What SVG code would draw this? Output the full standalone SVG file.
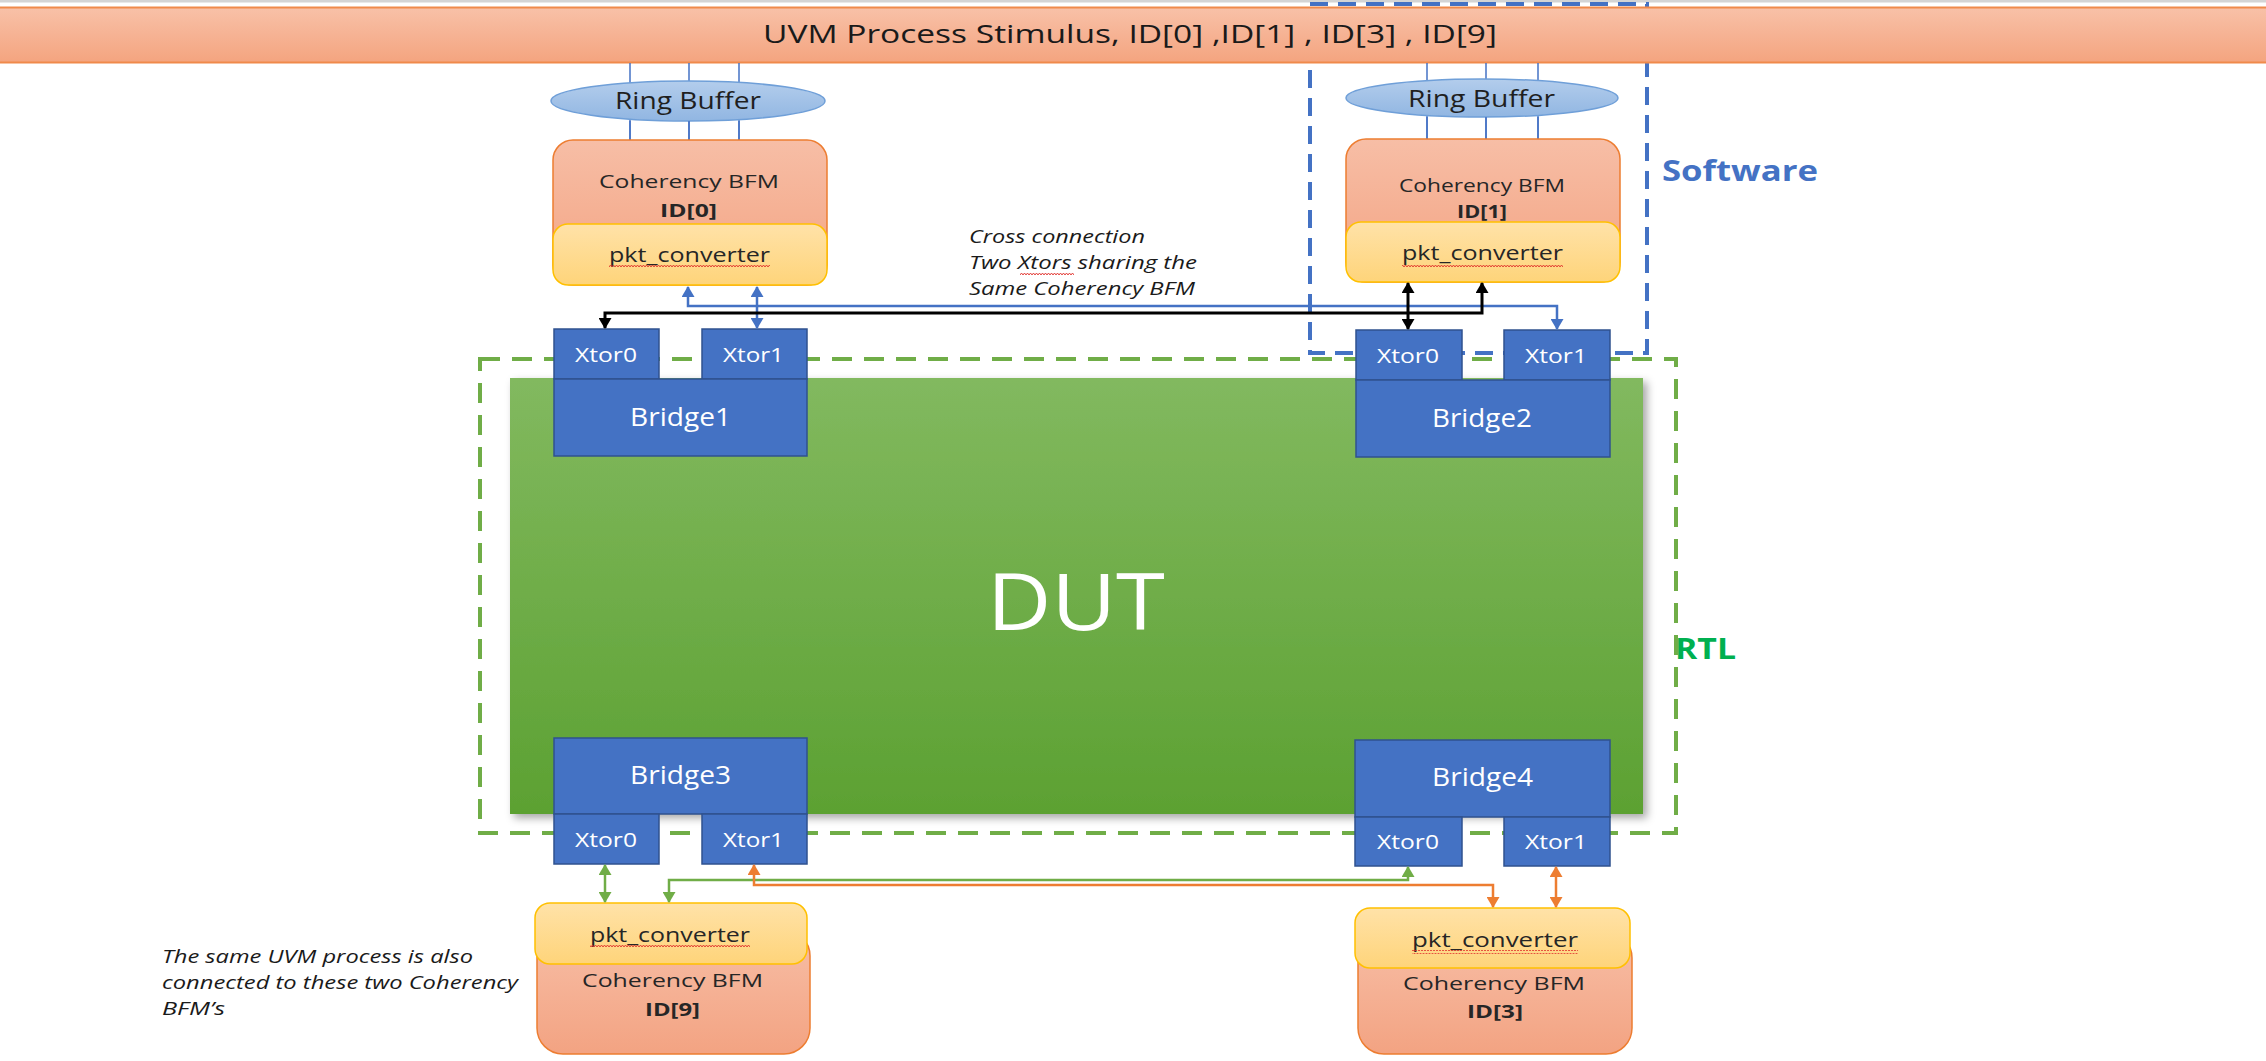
<svg xmlns="http://www.w3.org/2000/svg" width="2266" height="1061" viewBox="0 0 2266 1061">
  <defs>
    <style>
      text { font-family: "Open Sans", "Liberation Sans", sans-serif; }
      .xt { fill: #ffffff; font-size: 19.5px; }
      .br { fill: #ffffff; font-size: 26px; }
      .dk { fill: #262626; }
      .bfm { font-size: 18.5px; }
      .id { font-size: 18.5px; font-weight: bold; }
      .pkt { font-size: 19.5px; }
      .rb { font-size: 24.5px; fill: #1f1f1f; }
      .note { font-style: italic; font-size: 18px; fill: #1a1a1a; }
      .block { fill: #4472c4; stroke: #2f528f; stroke-width: 1.5; }
      .bfmbox { fill: url(#gBfm); stroke: #ed7d31; stroke-width: 1.5; }
      .pktbox { fill: url(#gPkt); stroke: #ffc000; stroke-width: 1.5; }
      .ring { fill: url(#gRing); stroke: #6f9fd8; stroke-width: 1.5; }
      .rline { stroke: #4472c4; stroke-width: 1.5; }
      .sq { fill: url(#squiggle); }
      .cb { fill: none; stroke: #4472c4; stroke-width: 2.5; marker-start: url(#aB); marker-end: url(#aB); }
      .ck { fill: none; stroke: #000000; stroke-width: 3; marker-start: url(#aK); marker-end: url(#aK); }
      .cg { fill: none; stroke: #70ad47; stroke-width: 2.5; marker-start: url(#aG); marker-end: url(#aG); }
      .co { fill: none; stroke: #ed7d31; stroke-width: 2.5; marker-start: url(#aO); marker-end: url(#aO); }
    </style>
    <linearGradient id="gBanner" x1="0" y1="0" x2="0" y2="1">
      <stop offset="0" stop-color="#f8c1a8"/>
      <stop offset="1" stop-color="#f4a47f"/>
    </linearGradient>
    <linearGradient id="gBfm" x1="0" y1="0" x2="0" y2="1">
      <stop offset="0" stop-color="#f7bea6"/>
      <stop offset="1" stop-color="#f3a382"/>
    </linearGradient>
    <linearGradient id="gPkt" x1="0" y1="0" x2="0" y2="1">
      <stop offset="0" stop-color="#ffe2a8"/>
      <stop offset="1" stop-color="#fed47a"/>
    </linearGradient>
    <linearGradient id="gRing" x1="0" y1="0" x2="0" y2="1">
      <stop offset="0" stop-color="#b3cdec"/>
      <stop offset="1" stop-color="#91b6e2"/>
    </linearGradient>
    <linearGradient id="gDut" x1="0" y1="0" x2="0" y2="1">
      <stop offset="0" stop-color="#82b95f"/>
      <stop offset="1" stop-color="#5ca132"/>
    </linearGradient>
    <filter id="shadow" x="-5%" y="-5%" width="112%" height="115%">
      <feDropShadow dx="4" dy="4" stdDeviation="4" flood-color="#000" flood-opacity="0.35"/>
    </filter>
    <pattern id="squiggle" width="6" height="4" patternUnits="userSpaceOnUse">
      <path d="M0,3 L1.5,1 L3,3 L4.5,1 L6,3" fill="none" stroke="#e0302a" stroke-width="0.9"/>
    </pattern>
    <marker id="aB" viewBox="0 0 11 13" refX="10" refY="6.5" markerWidth="11" markerHeight="13" markerUnits="userSpaceOnUse" orient="auto-start-reverse">
      <path d="M0,0 L11,6.5 L0,13 z" fill="#4472c4"/>
    </marker>
    <marker id="aK" viewBox="0 0 11 13" refX="10" refY="6.5" markerWidth="11" markerHeight="13" markerUnits="userSpaceOnUse" orient="auto-start-reverse">
      <path d="M0,0 L11,6.5 L0,13 z" fill="#000000"/>
    </marker>
    <marker id="aG" viewBox="0 0 11 13" refX="10" refY="6.5" markerWidth="11" markerHeight="13" markerUnits="userSpaceOnUse" orient="auto-start-reverse">
      <path d="M0,0 L11,6.5 L0,13 z" fill="#70ad47"/>
    </marker>
    <marker id="aO" viewBox="0 0 11 13" refX="10" refY="6.5" markerWidth="11" markerHeight="13" markerUnits="userSpaceOnUse" orient="auto-start-reverse">
      <path d="M0,0 L11,6.5 L0,13 z" fill="#ed7d31"/>
    </marker>
  </defs>

  <rect x="0" y="0" width="2266" height="1061" fill="#ffffff"/>
  <rect x="0" y="0" width="2266" height="2.5" fill="#d4d4d4"/>

  <!-- Software region boundary (drawn under the banner) -->
  <g id="software-region">
    <rect x="1310" y="4" width="337" height="349" fill="none" stroke="#4472c4" stroke-width="4" stroke-dasharray="18 10"/>
    <text x="1662" y="181" textLength="156" lengthAdjust="spacingAndGlyphs" style="font-size:28px;font-weight:bold;fill:#4472c4">Software</text>
  </g>

  <!-- UVM stimulus banner -->
  <g id="uvm-banner">
    <rect x="-2" y="7.5" width="2270" height="55" fill="url(#gBanner)" stroke="#f08a4b" stroke-width="2"/>
    <text x="763" y="43" textLength="734" lengthAdjust="spacingAndGlyphs" style="font-size:25.5px;fill:#1a1a1a">UVM Process Stimulus, ID[0] ,ID[1] , ID[3] , ID[9]</text>
  </g>

  <!-- Ring buffers with their links to the banner and BFM -->
  <g id="ring-buffer-0">
    <line class="rline" x1="630" y1="63" x2="630" y2="140"/>
    <line class="rline" x1="689" y1="63" x2="689" y2="140"/>
    <line class="rline" x1="739" y1="63" x2="739" y2="140"/>
    <ellipse class="ring" cx="688" cy="101" rx="137" ry="20"/>
    <line class="rline" x1="630" y1="121" x2="630" y2="140"/>
    <line class="rline" x1="689" y1="121" x2="689" y2="140"/>
    <line class="rline" x1="739" y1="121" x2="739" y2="140"/>
    <text class="rb" x="615" y="109" textLength="146" lengthAdjust="spacingAndGlyphs">Ring Buffer</text>
  </g>
  <g id="ring-buffer-1">
    <line class="rline" x1="1427" y1="63" x2="1427" y2="139"/>
    <line class="rline" x1="1486" y1="63" x2="1486" y2="139"/>
    <line class="rline" x1="1538" y1="63" x2="1538" y2="139"/>
    <ellipse class="ring" cx="1482" cy="98" rx="136" ry="19"/>
    <line class="rline" x1="1427" y1="117" x2="1427" y2="139"/>
    <line class="rline" x1="1486" y1="117" x2="1486" y2="139"/>
    <line class="rline" x1="1538" y1="117" x2="1538" y2="139"/>
    <text class="rb" x="1408" y="107" textLength="147" lengthAdjust="spacingAndGlyphs">Ring Buffer</text>
  </g>

  <!-- Coherency BFMs on the software side -->
  <g id="bfm-id0">
    <rect class="bfmbox" x="553" y="140" width="274" height="145" rx="20"/>
    <rect class="pktbox" x="553" y="224" width="274" height="61" rx="15"/>
    <text class="dk bfm" x="599" y="188" textLength="180" lengthAdjust="spacingAndGlyphs">Coherency BFM</text>
    <text class="dk id" x="660" y="217" textLength="57" lengthAdjust="spacingAndGlyphs">ID[0]</text>
    <text class="dk pkt" x="609" y="262" textLength="161" lengthAdjust="spacingAndGlyphs">pkt_converter</text>
    <rect class="sq" x="609" y="265" width="161" height="4"/>
  </g>
  <g id="bfm-id1">
    <rect class="bfmbox" x="1346" y="139" width="274" height="143" rx="20"/>
    <rect class="pktbox" x="1346" y="222" width="274" height="60" rx="15"/>
    <text class="dk bfm" x="1399" y="192" textLength="166" lengthAdjust="spacingAndGlyphs" style="font-size:17.5px">Coherency BFM</text>
    <text class="dk id" x="1457" y="218" textLength="50" lengthAdjust="spacingAndGlyphs" style="font-size:17.5px">ID[1]</text>
    <text class="dk pkt" x="1402" y="260" textLength="161" lengthAdjust="spacingAndGlyphs">pkt_converter</text>
    <rect class="sq" x="1402" y="263" width="161" height="4"/>
  </g>

  <!-- RTL region boundary -->
  <g id="rtl-region">
    <rect x="480" y="359" width="1196" height="474" fill="none" stroke="#70ad47" stroke-width="4" stroke-dasharray="20 12"/>
    <text x="1675" y="659" textLength="61" lengthAdjust="spacingAndGlyphs" style="font-size:28px;font-weight:bold;fill:#00b050">RTL</text>
  </g>

  <!-- Device under test -->
  <g id="dut">
    <rect x="510" y="378" width="1133" height="436" fill="url(#gDut)" filter="url(#shadow)"/>
    <text x="987" y="630" textLength="178" lengthAdjust="spacingAndGlyphs" style="font-size:78px;fill:#ffffff">DUT</text>
  </g>

  <!-- Bridges with their transactors -->
  <g id="bridge1">
    <rect class="block" x="554" y="329" width="105" height="50"/>
    <rect class="block" x="702" y="329" width="105" height="50"/>
    <rect class="block" x="554" y="379" width="253" height="77"/>
    <text class="xt" x="575" y="362" textLength="62" lengthAdjust="spacingAndGlyphs">Xtor0</text>
    <text class="xt" x="723" y="362" textLength="61" lengthAdjust="spacingAndGlyphs">Xtor1</text>
    <text class="br" x="630" y="426" textLength="101" lengthAdjust="spacingAndGlyphs">Bridge1</text>
  </g>
  <g id="bridge2">
    <rect class="block" x="1356" y="330" width="106" height="50"/>
    <rect class="block" x="1504" y="330" width="106" height="50"/>
    <rect class="block" x="1356" y="380" width="254" height="77"/>
    <text class="xt" x="1377" y="363" textLength="62" lengthAdjust="spacingAndGlyphs">Xtor0</text>
    <text class="xt" x="1525" y="363" textLength="62" lengthAdjust="spacingAndGlyphs">Xtor1</text>
    <text class="br" x="1432" y="427" textLength="100" lengthAdjust="spacingAndGlyphs">Bridge2</text>
  </g>
  <g id="bridge3">
    <rect class="block" x="554" y="738" width="253" height="76"/>
    <rect class="block" x="554" y="814" width="105" height="50"/>
    <rect class="block" x="702" y="814" width="105" height="50"/>
    <text class="br" x="630" y="784" textLength="101" lengthAdjust="spacingAndGlyphs">Bridge3</text>
    <text class="xt" x="575" y="847" textLength="62" lengthAdjust="spacingAndGlyphs">Xtor0</text>
    <text class="xt" x="723" y="847" textLength="61" lengthAdjust="spacingAndGlyphs">Xtor1</text>
  </g>
  <g id="bridge4">
    <rect class="block" x="1355" y="740" width="255" height="77"/>
    <rect class="block" x="1355" y="817" width="107" height="49"/>
    <rect class="block" x="1504" y="817" width="106" height="49"/>
    <text class="br" x="1432" y="786" textLength="101" lengthAdjust="spacingAndGlyphs">Bridge4</text>
    <text class="xt" x="1377" y="849" textLength="62" lengthAdjust="spacingAndGlyphs">Xtor0</text>
    <text class="xt" x="1525" y="849" textLength="62" lengthAdjust="spacingAndGlyphs">Xtor1</text>
  </g>

  <!-- Coherency BFMs attached to the lower bridges -->
  <g id="bfm-id9">
    <rect class="bfmbox" x="537" y="930" width="273" height="124" rx="26"/>
    <rect class="pktbox" x="535" y="903" width="272" height="61" rx="15"/>
    <text class="dk pkt" x="590" y="942" textLength="160" lengthAdjust="spacingAndGlyphs">pkt_converter</text>
    <rect class="sq" x="590" y="945" width="160" height="4"/>
    <text class="dk bfm" x="582" y="987" textLength="181" lengthAdjust="spacingAndGlyphs">Coherency BFM</text>
    <text class="dk id" x="645" y="1016" textLength="55" lengthAdjust="spacingAndGlyphs">ID[9]</text>
  </g>
  <g id="bfm-id3">
    <rect class="bfmbox" x="1358" y="932" width="274" height="122" rx="26"/>
    <rect class="pktbox" x="1355" y="908" width="275" height="60" rx="15"/>
    <text class="dk pkt" x="1412" y="947" textLength="166" lengthAdjust="spacingAndGlyphs">pkt_converter</text>
    <rect class="sq" x="1412" y="950" width="166" height="4"/>
    <text class="dk bfm" x="1403" y="990" textLength="182" lengthAdjust="spacingAndGlyphs">Coherency BFM</text>
    <text class="dk id" x="1467" y="1018" textLength="56" lengthAdjust="spacingAndGlyphs">ID[3]</text>
  </g>

  <!-- Connectors between converters and transactors -->
  <g id="connectors">
    <path class="cb" d="M688,287 V306 H1557 V329"/>
    <path class="cb" d="M757,287 V328"/>
    <path class="ck" d="M605,328 V313 H1482 V283"/>
    <path class="ck" d="M1408,283 V329"/>
    <path class="cg" d="M605,865 V902"/>
    <path class="cg" d="M669,902 V880 H1408 V867"/>
    <path class="co" d="M754,865 V885 H1493 V907"/>
    <path class="co" d="M1556,867 V907"/>
  </g>

  <!-- Notes -->
  <g id="note-cross">
    <text class="note" x="969" y="243" textLength="176" lengthAdjust="spacingAndGlyphs">Cross connection</text>
    <text class="note" x="969" y="269" textLength="228" lengthAdjust="spacingAndGlyphs">Two Xtors sharing the</text>
    <rect class="sq" x="1020" y="272" width="54" height="4"/>
    <text class="note" x="969" y="295" textLength="226" lengthAdjust="spacingAndGlyphs">Same Coherency BFM</text>
  </g>
  <g id="note-uvm">
    <text class="note" x="162" y="963" textLength="311" lengthAdjust="spacingAndGlyphs">The same UVM process is also</text>
    <text class="note" x="162" y="989" textLength="356" lengthAdjust="spacingAndGlyphs">connected to these two Coherency</text>
    <text class="note" x="162" y="1015" textLength="63" lengthAdjust="spacingAndGlyphs">BFM’s</text>
  </g>
</svg>
